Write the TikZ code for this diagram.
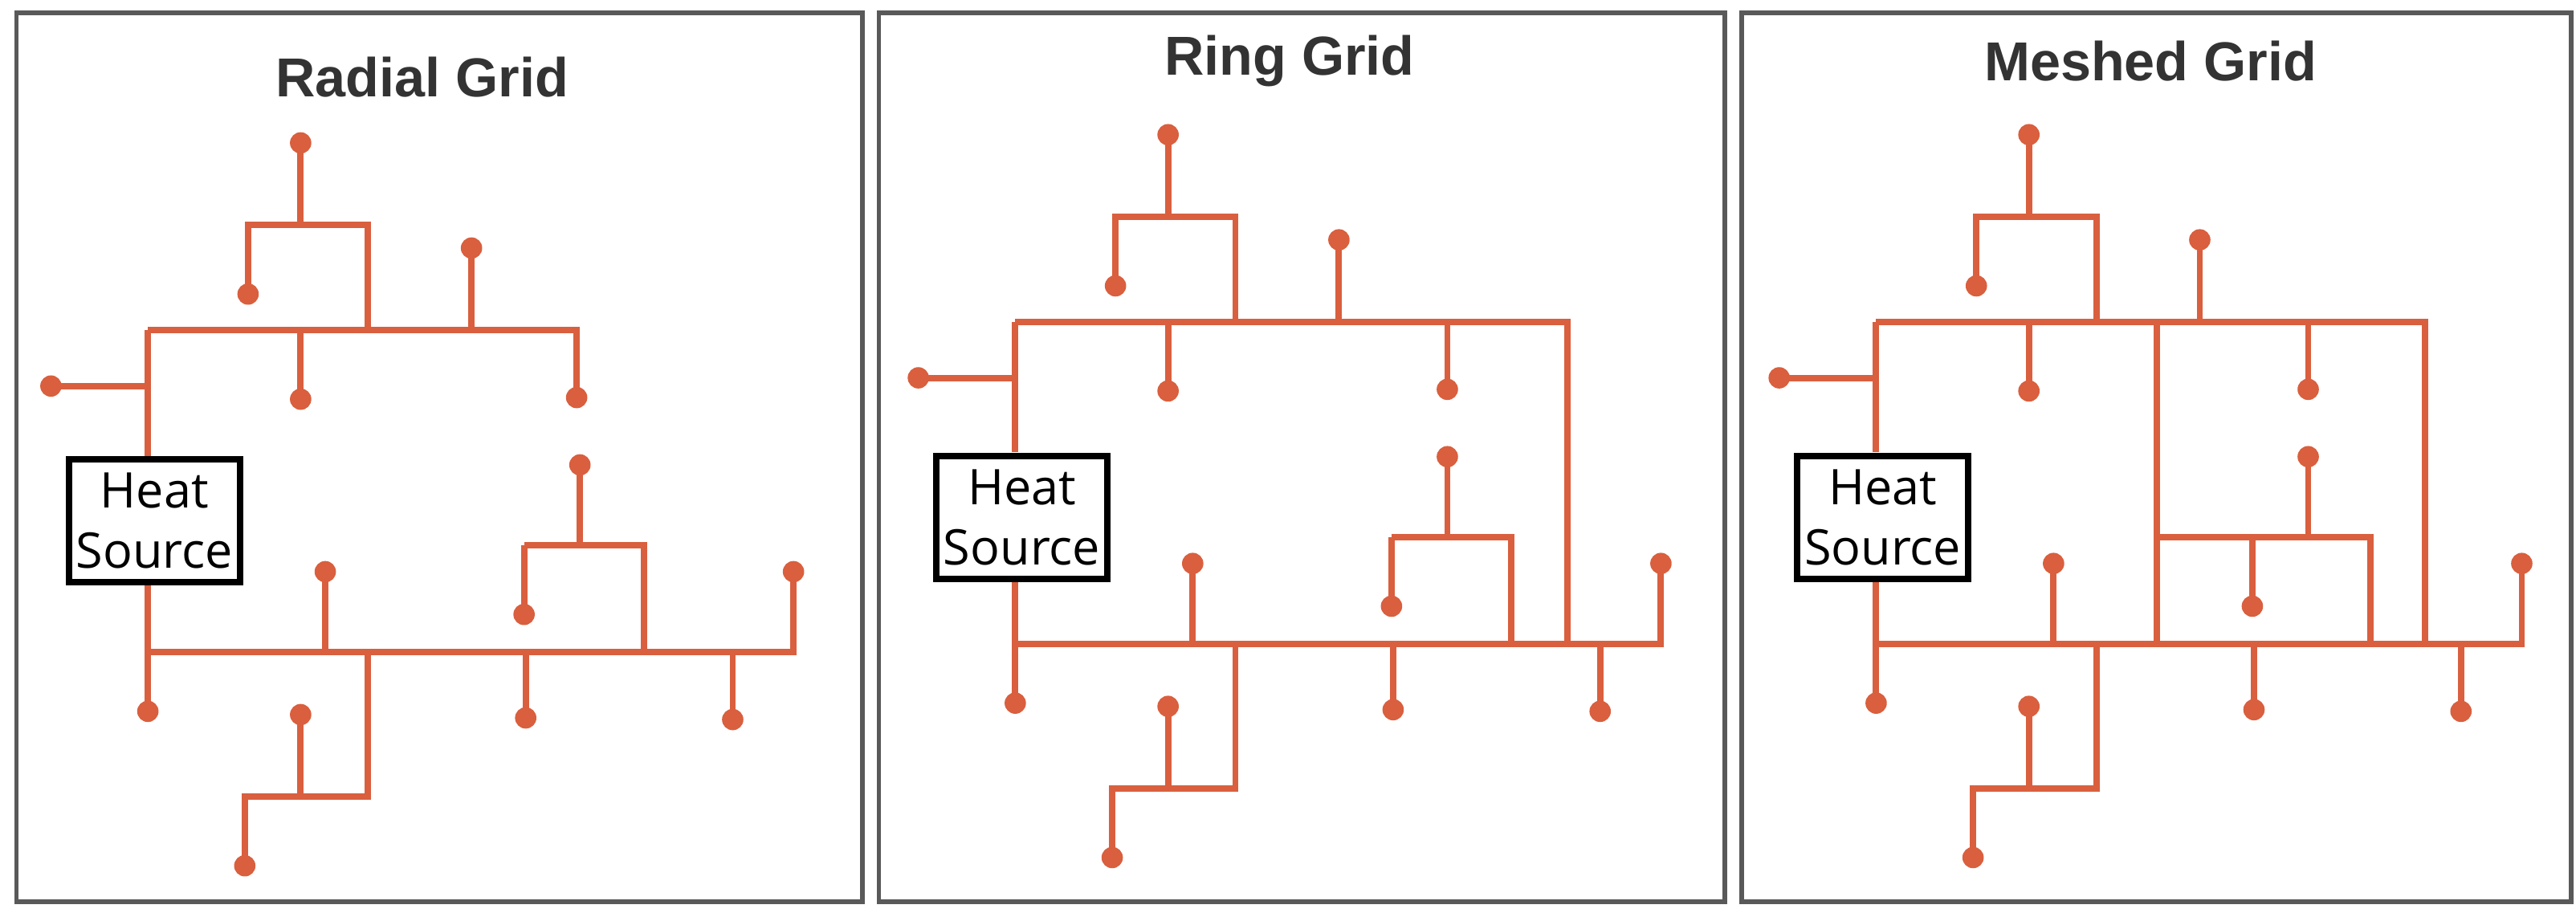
\documentclass[tikz,border=0pt]{standalone}
\usepackage{fontspec}
\setmainfont{Open Sans}
\newfontfamily\titlefont{Liberation Sans}
\definecolor{pipe}{HTML}{D95F3E}
\definecolor{ttl}{HTML}{333333}
\newcommand\pdot[1]{\fill[pipe] #1 circle[radius=0.065cm];}
\newcommand\commonnet{%
  \draw[net] (183,87) -- (183,137);
  \draw[net] (151,179) -- (151,137) -- (224,137) -- (224,201);
  \pdot{(183,87)}\pdot{(151,179)}
  \draw[net] (183,201) -- (183,243); \pdot{(183,243)}
  \draw[net] (287,201) -- (287,151); \pdot{(287,151)}
  \draw[net] (90,235) -- (31,235); \pdot{(31,235)}
  \draw[net] (90,201) -- (90,280);
  \draw[net] (90,355) -- (90,433); \pdot{(90,433)}
  \draw[net] (90,397) -- (483,397) -- (483,348); \pdot{(483,348)}
  \draw[net] (198,397) -- (198,348); \pdot{(198,348)}
  \draw[net] (224,397) -- (224,485) -- (149,485) -- (149,527); \pdot{(149,527)}
  \draw[net] (183,485) -- (183,435); \pdot{(183,435)}
  \draw[net] (320,397) -- (320,437); \pdot{(320,437)}
  \draw[net] (446,397) -- (446,438); \pdot{(446,438)}
  \draw[net] (353,332) -- (353,283); \pdot{(353,283)}
  \draw[net] (319,332) -- (319,374); \pdot{(319,374)}
}
\begin{document}
\begin{tikzpicture}[x=0.01cm,y=-0.01cm,
  net/.style={draw=pipe,line width=1.1pt,line join=miter},
  frame/.style={draw=black!65,line width=0.8pt},
  ttlstyle/.style={font=\titlefont\bfseries\fontsize{9.5}{11}\selectfont,text=ttl},
  heat/.style={draw=black,line width=1.1pt,fill=white,minimum width=1.04cm,minimum height=0.75cm,inner sep=0pt,align=center,font=\fontsize{8.5}{10.5}\selectfont}]
\useasboundingbox (0,0) rectangle (1568,558);
\draw[frame] (10,8) rectangle (525,549);
\draw[frame] (535,8) rectangle (1050,549);
\draw[frame] (1060,8) rectangle (1565,549);
% Radial
\begin{scope}
  \commonnet
  \draw[net] (90,201) -- (351,201) -- (351,242); \pdot{(351,242)}
  \draw[net] (392,397) -- (392,332) -- (319,332);
  \node[ttlstyle] (t1) at (257,47) {Radial Grid};
  \node[heat] (h1) at (94,317) {Heat\\Source};
\end{scope}
% Ring
\begin{scope}[shift={(528,-5)}]
  \commonnet
  \draw[net] (90,201) -- (426,201) -- (426,397);
  \draw[net] (353,201) -- (353,242); \pdot{(353,242)}
  \draw[net] (392,397) -- (392,332) -- (319,332);
  \node[ttlstyle] (t2) at (257,42) {Ring Grid};
  \node[heat] (h2) at (94,320) {Heat\\Source};
\end{scope}
% Meshed
\begin{scope}[shift={(1052,-5)}]
  \commonnet
  \draw[net] (90,201) -- (424,201) -- (424,397);
  \draw[net] (261,201) -- (261,397);
  \draw[net] (353,201) -- (353,242); \pdot{(353,242)}
  \draw[net] (391,397) -- (391,332) -- (261,332);
  \node[ttlstyle] (t3) at (257,42) {Meshed Grid};
  \node[heat] (h3) at (94,320) {Heat\\Source};
\end{scope}
\end{tikzpicture}
\end{document}
